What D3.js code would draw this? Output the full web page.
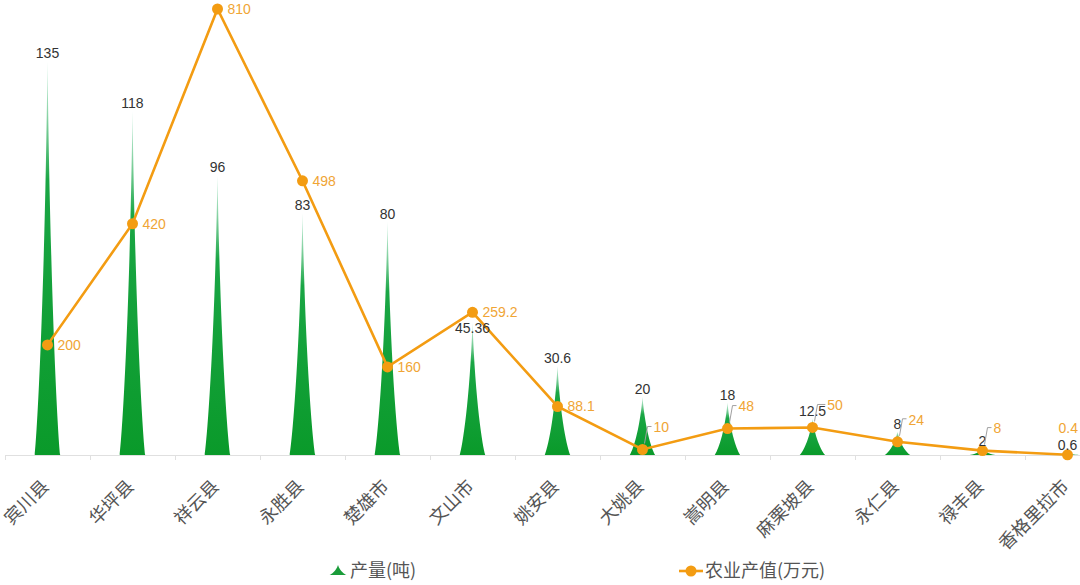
<!DOCTYPE html>
<html>
<head>
<meta charset="utf-8">
<script src="https://cdn.jsdelivr.net/npm/d3@7/dist/d3.min.js"></script>
<style>
  html, body { margin: 0; padding: 0; background: #fff; }
  svg { display: block; }
  text { font-family: "Liberation Sans", "Noto Sans CJK SC", sans-serif; }
  .cjk { font-family: "Noto Sans CJK SC", sans-serif; }
</style>
</head>
<body>
<svg id="chart" width="1080" height="585"></svg>
<script>
// ---- data ----
const categories = ["宾川县","华坪县","祥云县","永胜县","楚雄市","文山市","姚安县","大姚县","嵩明县","麻栗坡县","永仁县","禄丰县","香格里拉市"];
const outputTons = [135, 118, 96, 83, 80, 45.36, 30.6, 20, 18, 12.5, 8, 2, 0.6];
const outputValue = [200, 420, 810, 498, 160, 259.2, 88.1, 10, 48, 50, 24, 8, 0.4];
const seriesNames = ["产量(吨)", "农业产值(万元)"];

// ---- layout ----
const W = 1080, H = 585;
const axisY = 455, topY = 9;
const svg = d3.select("#chart");

const x = d3.scaleBand().domain(categories).range([5, 1110]).padding(0);
const yBar = d3.scaleLinear().domain([0, 153]).range([axisY, topY]);
const yLine = d3.scaleLinear().domain([0, 810]).range([axisY, topY]);
const cx = i => x(categories[i]) + x.bandwidth() / 2;

const lineColor = "#f39c12";
const lineLabelColor = "#f0a535";

// gradient for spikes
const defs = svg.append("defs");
const grad = defs.append("linearGradient").attr("id", "spikeGrad")
  .attr("x1", 0).attr("y1", 1).attr("x2", 0).attr("y2", 0);
grad.append("stop").attr("offset", 0).attr("stop-color", "#0a9a2a");
grad.append("stop").attr("offset", 0.7).attr("stop-color", "#1aa645");
grad.append("stop").attr("offset", 1).attr("stop-color", "#a8e4c8").attr("stop-opacity", 0.6);

function spike(cxp, w, top, base) {
  const h = base - top, hw = w / 2;
  const p = d3.path();
  p.moveTo(cxp - hw, base);
  p.lineTo(cxp + hw, base);
  p.bezierCurveTo(cxp + hw * 0.8, base - h * 0.06, cxp + hw * 0.22, base - h * 0.4, cxp, top);
  p.bezierCurveTo(cxp - hw * 0.22, base - h * 0.4, cxp - hw * 0.8, base - h * 0.06, cxp - hw, base);
  p.closePath();
  return p.toString();
}

// ---- x axis ----
const xAxis = d3.axisBottom(x).tickSize(0).tickSizeOuter(0);
const gx = svg.append("g").attr("transform", `translate(0,${axisY})`).call(xAxis);
gx.select(".domain").attr("stroke", "#e0e0e0").attr("stroke-width", 1);
gx.selectAll(".tick text")
  .attr("class", "cjk")
  .attr("fill", "#555")
  .style("font-size", "18px")
  .attr("text-anchor", "end")
  .attr("x", 0).attr("y", 0).attr("dy", "0.35em")
  .attr("transform", "translate(-2,28) rotate(-45)");
// boundary ticks
const bounds = categories.map(c => x(c)).concat([x(categories[categories.length - 1]) + x.bandwidth()]);
svg.append("g").selectAll("line").data(bounds).join("line")
  .attr("x1", d => d + 0.5).attr("x2", d => d + 0.5)
  .attr("y1", axisY).attr("y2", axisY + 5)
  .attr("stroke", "#e0e0e0");

// ---- spikes ----
const bw = x.bandwidth() * 0.3;
svg.append("g").selectAll("path").data(outputTons).join("path")
  .attr("d", (d, i) => spike(cx(i), bw, yBar(d), yBar(0)))
  .attr("fill", "url(#spikeGrad)");

// ---- line ----
const pts = outputValue.map((v, i) => [cx(i), yLine(v)]);
svg.append("path").datum(pts)
  .attr("d", d3.line())
  .attr("fill", "none").attr("stroke", lineColor).attr("stroke-width", 2.6);
svg.append("g").selectAll("circle").data(pts).join("circle")
  .attr("cx", d => d[0]).attr("cy", d => d[1]).attr("r", 5.5)
  .attr("fill", lineColor);

// ---- labels ----
const lblG = svg.append("g");
const leadG = svg.append("g");
function overlapX(a, b) { return Math.min(a.x + a.width, b.x + b.width) - Math.max(a.x, b.x); }
function overlapY(a, b) { return Math.min(a.y + a.height, b.y + b.height) - Math.max(a.y, b.y); }
outputValue.forEach((v, i) => {
  const [px, py] = pts[i];
  // bar label
  const bt = lblG.append("text")
    .attr("x", cx(i)).attr("y", yBar(outputTons[i]) - 3)
    .attr("text-anchor", "middle")
    .style("font-size", "14px")
    .attr("fill", "#333")
    .text(outputTons[i]);
  // line label
  const shifted = (axisY - py) < 30;
  let ly = shifted ? py - 22 : py;
  let lx = px + (shifted ? 11 : 10);
  const t = lblG.append("text")
    .attr("x", lx).attr("y", ly).attr("dy", "0.35em")
    .style("font-size", "14px")
    .attr("fill", lineLabelColor)
    .text(v);
  const tw = t.node().getComputedTextLength();
  let clamped = false;
  if (lx + tw > W - 2) { lx = W - 2 - tw; t.attr("x", lx); clamped = true; }
  // resolve overlap between the two labels of the category
  const bb = bt.node().getBBox(), lb = t.node().getBBox();
  const ox = overlapX(bb, lb), oy = overlapY(bb, lb);
  if (ox > 0 && oy > 1) {
    if (!shifted) {
      bt.attr("y", lb.y + lb.height + bb.height - 3);
    } else if (!clamped && ox < 6) {
      lx = lx + ox + 1;
      t.attr("x", lx);
    } else {
      ly = ly - oy - 1;
      t.attr("y", ly);
    }
  }
  if (shifted && !clamped) {
    leadG.append("polyline")
      .attr("points", `${px + 2},${py - 6} ${px + 5},${ly - 1} ${lx - 2},${ly - 1}`)
      .attr("fill", "none").attr("stroke", "#a0a0a0").attr("stroke-width", 1);
  }
});

// ---- legend ----
const legY = 571;
const leg = svg.append("g");
leg.append("path").attr("d", spike(338, 17, legY - 6, legY + 4)).attr("fill", "#1a9c3a");
leg.append("text").attr("class", "cjk").attr("x", 350).attr("y", legY).attr("dy", "0.35em")
  .style("font-size", "18px").attr("fill", "#555").text(seriesNames[0]);
leg.append("line").attr("x1", 679).attr("x2", 703).attr("y1", legY).attr("y2", legY)
  .attr("stroke", lineColor).attr("stroke-width", 2.6);
leg.append("circle").attr("cx", 691).attr("cy", legY).attr("r", 5.5).attr("fill", lineColor);
leg.append("text").attr("class", "cjk").attr("x", 705).attr("y", legY).attr("dy", "0.35em")
  .style("font-size", "18px").attr("fill", "#555").text(seriesNames[1]);
</script>
</body>
</html>
